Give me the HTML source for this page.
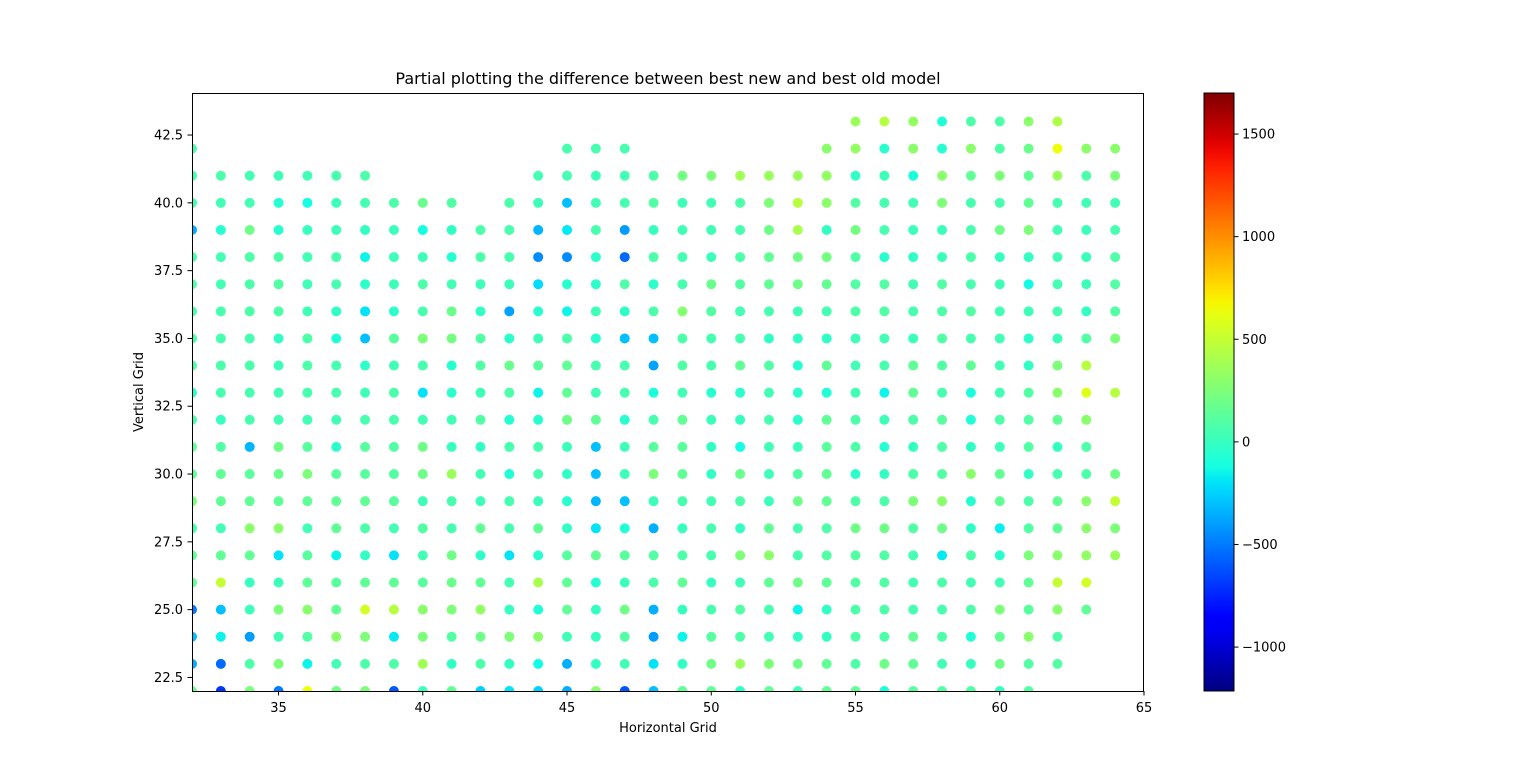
<!DOCTYPE html>
<html><head><meta charset="utf-8"><style>
body{margin:0;background:#fff;}
svg text{font-family:"DejaVu Sans","Liberation Sans",sans-serif;fill:#000;}
</style></head><body>
<svg id="chart" width="1536" height="777" xmlns="http://www.w3.org/2000/svg">
<defs>
<clipPath id="plotclip"><rect x="192" y="93" width="952" height="598"/></clipPath>
<linearGradient id="jetgrad" x1="0" y1="1" x2="0" y2="0"></linearGradient>
</defs>
<rect width="1536" height="777" fill="#fff"/>
<text x="668" y="84" font-size="16" text-anchor="middle">Partial plotting the difference between best new and best old model</text>
<g id="points" clip-path="url(#plotclip)"></g>
<rect x="192.5" y="93.5" width="951" height="598" fill="none" stroke="#000" stroke-width="1"/>
<g id="xticks"></g>
<g id="yticks"></g>
<text x="668" y="732" font-size="13" text-anchor="middle">Horizontal Grid</text>
<text x="143" y="392" font-size="13" text-anchor="middle" transform="rotate(-90 143 392)">Vertical Grid</text>
<rect id="cbar" x="1204" y="93" width="30" height="598" fill="url(#jetgrad)" stroke="#000" stroke-width="1"/>
<g id="cticks"></g>
</svg>
<script>
const xTicks=[35,40,45,50,55,60,65];
const yTicks=[22.5,25.0,27.5,30.0,32.5,35.0,37.5,40.0,42.5];
const cTicks=[-1000,-500,0,500,1000,1500];
const cTickLabels=["\u22121000","\u2212500","0","500","1000","1500"];
const rowY=[43,42,41,40,39,38,37,36,35,34,33,32,31,30,29,28,27,26,25,24,23,22];
const rowXStart=32;
const N=null;
const r43=[N,N,N,N,N,N,N,N,N,N,N,N,N,N,N,N,N,N,N,N,N,N,N,350,450,330,-80,80,80,300,430];
const r42=[50,N,N,N,N,N,N,N,N,N,N,N,N,60,60,60,N,N,N,N,N,N,300,330,-50,300,-60,300,80,180,650,300,300];
const r41=[40,80,50,30,40,60,80,N,N,N,N,N,50,50,20,40,80,220,250,380,350,350,330,-20,20,-100,300,150,250,150,350,80,250];
const r40=[40,40,50,-60,-120,20,50,80,180,100,N,80,30,-300,40,60,100,30,40,80,250,450,300,100,60,40,250,60,60,150,60,40,40];
const r39=[-350,-60,200,-50,0,30,-10,20,-120,-20,80,70,-330,-180,60,-400,0,40,30,60,200,400,-10,220,60,20,20,60,200,250,40,20,60];
const r38=[50,50,80,80,40,60,-150,20,30,-60,80,60,-450,-450,-40,-550,80,50,20,80,150,200,220,90,-50,-20,20,80,0,-10,40,20,90];
const r37=[80,50,80,100,30,60,-40,20,80,40,20,25,-220,-50,-40,90,-40,60,180,100,150,200,160,100,100,40,100,60,30,-130,50,20,100];
const r36=[60,60,80,80,40,-20,-200,-40,60,180,-20,-380,-50,-150,30,-30,80,280,100,50,60,40,50,80,100,60,80,100,40,30,60,-10,100];
const r35=[60,60,60,-20,80,-80,-300,120,250,220,100,-45,30,80,-50,-300,-300,80,50,60,-20,-20,-25,30,40,20,100,60,40,-40,20,100,250];
const r34=[80,80,80,20,80,60,-40,40,60,-60,100,180,120,150,60,60,-380,100,60,150,100,-60,150,40,60,150,100,150,40,-20,250,450,N];
const r33=[-50,60,60,40,60,60,30,70,-200,-40,30,80,-150,150,40,60,-100,40,-60,-40,40,-40,-80,40,-150,150,60,-100,40,100,300,600,450];
const r32=[60,0,60,40,40,40,60,60,40,40,100,-60,-50,200,150,-50,60,150,20,0,60,-40,150,80,20,80,120,-80,80,100,150,300,N];
const r31=[150,100,-330,200,120,-30,120,100,200,0,-20,60,60,20,-300,30,120,130,-10,-120,40,20,130,80,-60,-10,90,-20,20,100,-10,90,N];
const r30=[150,150,130,180,250,120,120,100,200,350,40,-80,60,-30,-300,30,250,150,-20,180,20,100,150,-40,-10,80,100,300,150,-20,60,80,200];
const r29=[250,150,150,150,150,150,150,120,30,60,20,60,20,-50,-330,-300,30,60,40,80,20,200,150,80,80,250,300,-60,150,80,150,300,500];
const r28=[40,40,300,300,40,150,80,40,100,60,150,60,150,-20,-200,-80,-350,0,60,-10,150,60,80,200,200,100,200,-30,-170,100,150,300,250];
const r27=[150,150,150,-200,120,-150,-20,-200,40,200,-30,-200,-50,120,150,120,100,80,60,250,300,60,100,100,100,50,-180,80,-50,250,300,320,350];
const r26=[150,500,0,20,150,120,150,150,120,180,150,50,400,150,-60,20,80,150,0,30,150,200,150,100,100,50,80,40,40,150,500,550,N];
const r25=[-500,-300,20,250,300,150,550,450,300,250,330,0,-80,150,-10,200,-350,0,60,100,60,-150,-20,80,80,60,60,80,250,120,300,150,N];
const r24=[-300,-150,-400,40,100,300,250,-180,250,100,200,250,300,30,0,100,-400,-150,120,80,40,-20,-10,80,80,150,80,-80,150,300,80,N,N];
const r23=[-350,-550,80,250,-150,40,80,80,380,-20,80,-10,-130,-350,-10,40,-200,-20,200,350,250,200,150,80,200,150,40,0,200,100,100,N,N];
const r22=[180,-700,250,-500,650,200,250,-600,20,150,-250,-200,-250,-350,300,-600,-300,150,150,-40,150,40,150,150,-100,120,100,100,-20,100,N,N,N];
const rows=[r43,r42,r41,r40,r39,r38,r37,r36,r35,r34,r33,r32,r31,r30,r29,r28,r27,r26,r25,r24,r23,r22];
const vmin=-1214, vmax=1700;
const xmin=32,xmax=65,ymin=22,ymax=44.05;
const px0=192,px1=1144,py0=691,py1=93;
function xs(v){return px0+(v-xmin)*(px1-px0)/(xmax-xmin);}
function ys(v){return py0-(v-ymin)*(py0-py1)/(ymax-ymin);}
function cs(v){return 691-(v-vmin)*598/(vmax-vmin);}
function interp(pts,t){for(let i=1;i<pts.length;i++){if(t<=pts[i][0]){const a=pts[i-1],b=pts[i];return a[1]+(b[1]-a[1])*(t-a[0])/(b[0]-a[0]);}}return pts[pts.length-1][1];}
const R=[[0,0],[0.35,0],[0.66,1],[0.89,1],[1,0.5]];
const G=[[0,0],[0.125,0],[0.375,1],[0.64,1],[0.91,0],[1,0]];
const B=[[0,0.5],[0.11,1],[0.34,1],[0.65,0],[1,0]];
function jet(t){t=Math.max(0,Math.min(1,t));return 'rgb('+Math.round(255*interp(R,t))+','+Math.round(255*interp(G,t))+','+Math.round(255*interp(B,t))+')';}
const NS='http://www.w3.org/2000/svg';
function mk(tag,attrs,parent){const e=document.createElementNS(NS,tag);for(const k in attrs)e.setAttribute(k,attrs[k]);parent.appendChild(e);return e;}
const gp=document.getElementById('points');
rows.forEach((row,ri)=>{row.forEach((v,ci)=>{if(v===null)return;
 const c=mk('circle',{cx:xs(rowXStart+ci),cy:ys(rowY[ri]),r:5,fill:jet((v-vmin)/(vmax-vmin))},gp);
 
 
});});
const gx=document.getElementById('xticks');
xTicks.forEach(t=>{const x=xs(t);
 mk('line',{x1:x,x2:x,y1:691,y2:695.5,stroke:'#000'},gx);
 const tx=mk('text',{x:x,y:712,'font-size':13,'text-anchor':'middle'},gx);tx.textContent=String(t);
 
 
});
const gy=document.getElementById('yticks');
yTicks.forEach(t=>{const y=ys(t);
 mk('line',{x1:187.5,x2:192,y1:y,y2:y,stroke:'#000'},gy);
 const tx=mk('text',{x:183,y:y+4.5,'font-size':13,'text-anchor':'end'},gy);tx.textContent=t.toFixed(1);
 
 
});
const grad=document.getElementById('jetgrad');
for(let i=0;i<=40;i++){mk('stop',{offset:(i/40),'stop-color':jet(i/40)},grad);}
const gc=document.getElementById('cticks');
cTicks.forEach((t,i)=>{const y=cs(t);
 mk('line',{x1:1234,x2:1238.5,y1:y,y2:y,stroke:'#000'},gc);
 const tx=mk('text',{x:1242,y:y+4.5,'font-size':13},gc);tx.textContent=cTickLabels[i];
 
 
});
</script>
</body></html>
